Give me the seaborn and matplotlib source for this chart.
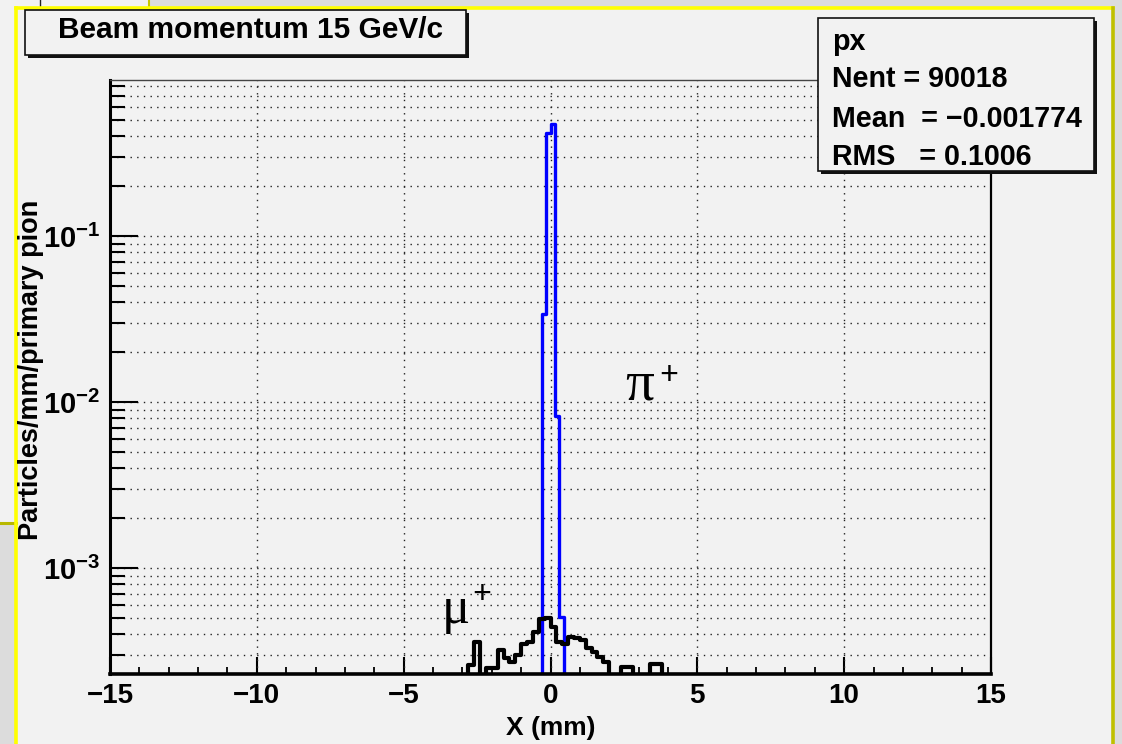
import numpy as np
import pandas as pd
import matplotlib
matplotlib.use("Agg")
import matplotlib.pyplot as plt
import seaborn as sns
from matplotlib.patches import Rectangle
from matplotlib.lines import Line2D
from matplotlib.ticker import FixedLocator, FuncFormatter, LogLocator, NullFormatter, MultipleLocator

# ---------------- data ----------------
x_range = (-15.0, 15.0)
y_range = (2.3e-4, 0.87)

pi_bin_width = 0.15
pi_bin_left = [-0.30, -0.15, 0.00, 0.15, 0.30]
pi_values = [0.034, 0.417, 0.473, 0.0082, 0.00051]

mu_bin_width = 0.2
mu_bin_left = [-2.8, -2.6, -2.2, -2.0, -1.8, -1.6, -1.4, -1.2, -1.0, -0.8,
               -0.6, -0.4, -0.2, 0.0, 0.2, 0.4, 0.6, 0.8, 1.0, 1.2,
               1.4, 1.6, 1.8, 2.4, 2.6, 3.4, 3.6]
mu_values = [2.6e-4, 3.6e-4, 2.5e-4, 2.5e-4, 3.2e-4, 2.87e-4, 2.72e-4, 3.0e-4, 3.5e-4, 3.6e-4,
             4.1e-4, 4.9e-4, 5.0e-4, 4.4e-4, 3.6e-4, 3.5e-4, 3.85e-4, 3.8e-4, 3.7e-4, 3.3e-4,
             3.1e-4, 2.9e-4, 2.7e-4, 2.55e-4, 2.55e-4, 2.65e-4, 2.65e-4]

x_major_ticks = [-15, -10, -5, 0, 5, 10, 15]
x_grid_ticks = [-10, -5, 0, 5, 10]
y_major_ticks = [1e-3, 1e-2, 1e-1]

title_text = "Beam momentum 15 GeV/c"
stats_lines = ["px", "Nent = 90018", "Mean  = \u22120.001774", "RMS   = 0.1006"]
x_label = "X (mm)"
y_label = "Particles/mm/primary pion"

# ---------------- style ----------------
plt.rcParams["font.family"] = ["Liberation Sans", "DejaVu Sans"]
plt.rcParams["font.weight"] = "bold"
plt.rcParams["mathtext.fontset"] = "custom"
plt.rcParams["mathtext.rm"] = "Liberation Sans:bold"
plt.rcParams["mathtext.bf"] = "Liberation Sans:bold"
plt.rcParams["mathtext.it"] = "Liberation Sans:bold"
plt.rcParams["mathtext.default"] = "rm"

W, H = 1122, 744
fig = plt.figure(figsize=(W / 100, H / 100), dpi=100)
fig.patch.set_facecolor("#dcdcdc")


def fx(x):
    return x / W


def fy(y):
    return 1 - y / H


def frect(x0, y0, x1, y1, **kw):
    r = Rectangle((fx(x0), fy(y1)), fx(x1) - fx(x0), fy(y0) - fy(y1),
                  transform=fig.transFigure, **kw)
    fig.add_artist(r)
    return r


def fline(xs, ys, **kw):
    fig.add_artist(Line2D([fx(v) for v in xs], [fy(v) for v in ys],
                          transform=fig.transFigure, **kw))


# window background pieces
frect(0, 0, 16, 523, facecolor="#f2f2f2", edgecolor="none", zorder=-10)
frect(0, 0, 150, 8, facecolor="#f2f2f2", edgecolor="none", zorder=-10)
frect(16, 8, 1113, 744, facecolor="#f2f2f2", edgecolor="none", zorder=-9)
fline([0, 16], [523, 523], color="#b8b800", lw=2.2, zorder=-8)
fline([40, 40], [0, 8], color="#222222", lw=1.0, zorder=-8)
fline([149, 149], [0, 8], color="#c8c800", lw=1.5, zorder=-8)
fline([16, 16], [8, 744], color="#ffff00", lw=2.6, zorder=-8)
fline([16, 1113], [8, 8], color="#ffff00", lw=2.6, zorder=-8)
fline([1113, 1113], [8, 744], color="#c0c000", lw=2.6, zorder=-8)

# axes
ax_l, ax_r, ax_t, ax_b = 110, 991, 80, 674
ax = fig.add_axes([fx(ax_l), fy(ax_b), fx(ax_r) - fx(ax_l), fy(ax_t) - fy(ax_b)])
ax.set_facecolor("none")

pi_edges = list(np.linspace(x_range[0], x_range[1], int(round((x_range[1] - x_range[0]) / pi_bin_width)) + 1))
mu_edges = list(np.linspace(x_range[0], x_range[1], int(round((x_range[1] - x_range[0]) / mu_bin_width)) + 1))

pi_df = pd.DataFrame({"x": np.array(pi_bin_left) + pi_bin_width / 2, "w": pi_values})
mu_df = pd.DataFrame({"x": np.array(mu_bin_left) + mu_bin_width / 2, "w": mu_values})

sns.histplot(data=pi_df, x="x", weights="w", bins=pi_edges,
             element="step", fill=False, color="#0000ff", linewidth=2.4, ax=ax, zorder=3)
sns.histplot(data=mu_df, x="x", weights="w", bins=mu_edges,
             element="step", fill=False, color="#000000", linewidth=3.0, ax=ax, zorder=4)

ax.set_yscale("log")
ax.set_xlim(*x_range)
ax.set_ylim(*y_range)

# ticks
ax.xaxis.set_major_locator(FixedLocator(x_major_ticks))
ax.xaxis.set_minor_locator(MultipleLocator(1))
ax.xaxis.set_major_formatter(FuncFormatter(lambda v, p: f"{int(v)}".replace("-", "\u2212")))
ax.yaxis.set_major_locator(FixedLocator(y_major_ticks))
ax.yaxis.set_minor_locator(LogLocator(base=10, subs=np.arange(2, 10), numticks=20))
ax.yaxis.set_minor_formatter(NullFormatter())
ax.yaxis.set_major_formatter(FuncFormatter(lambda v, p: r"$10^{%d}$" % int(round(np.log10(v)))))

ax.tick_params(axis="x", which="major", direction="in", length=12, width=1.5, pad=6.5,
               labelsize=20, top=False, color="black")
ax.tick_params(axis="x", which="minor", direction="in", length=5, width=1.3, top=False)
ax.tick_params(axis="y", which="major", direction="in", length=20, width=1.5, pad=7,
               labelsize=21, right=False)
ax.tick_params(axis="y", which="minor", direction="in", length=11, width=1.5, right=False)
for lab in ax.get_xticklabels() + ax.get_yticklabels():
    lab.set_fontweight("bold")

# grid (dotted)
grid_kw = dict(color="#222222", linestyle=(0, (1, 3.8)), linewidth=1.0)
for v in x_grid_ticks:
    ax.axvline(v, zorder=1, **grid_kw)
ax.yaxis.grid(True, which="both", **grid_kw)
ax.set_axisbelow(True)

# spines
ax.spines["left"].set_linewidth(2.2)
ax.spines["bottom"].set_linewidth(2.6)
ax.spines["right"].set_linewidth(1.6)
ax.spines["top"].set_linewidth(1.0)
ax.spines["top"].set_color("#444444")
for s in ax.spines.values():
    s.set_zorder(5)

# axis labels
ax.set_xlabel(x_label, fontsize=19, fontweight="bold", va="center")
ax.xaxis.set_label_coords(0.5, (ax_b - 728) / (ax_b - ax_t))
ax.set_ylabel(y_label, fontsize=19.5, fontweight="bold", va="center")
ax.yaxis.set_label_coords((31 - ax_l) / (ax_r - ax_l), (ax_b - 370) / (ax_b - ax_t))

# particle labels
ax.text(2.55, 1.03e-2, "\u03c0", fontsize=41, family=["Liberation Serif", "DejaVu Serif"],
        fontweight="normal", ha="left", va="baseline", zorder=6)
ax.text(3.72, 1.28e-2, "+", fontsize=24, family=["Liberation Serif", "DejaVu Serif"],
        fontweight="bold", ha="left", va="baseline", zorder=6)
ax.text(-3.72, 4.67e-4, "\u03bc", fontsize=38, family=["Liberation Serif", "DejaVu Serif"],
        fontweight="normal", ha="left", va="baseline", zorder=6)
ax.text(-2.65, 6.15e-4, "+", fontsize=24, family=["Liberation Serif", "DejaVu Serif"],
        fontweight="bold", ha="left", va="baseline", zorder=6)

# title pave
frect(28, 13, 469, 58, facecolor="#111111", edgecolor="none", zorder=10)
frect(25, 10, 466, 55, facecolor="#f2f2f2", edgecolor="#111111", linewidth=1.2, zorder=11)
fig.text(fx(250), fy(38), title_text, fontsize=21.5, fontweight="bold", ha="center",
         va="baseline", zorder=12)

# stats pave
frect(821, 21, 1097, 174, facecolor="#111111", edgecolor="none", zorder=10)
frect(818, 18, 1094, 171, facecolor="#f2f2f2", edgecolor="#111111", linewidth=1.2, zorder=11)
for txt, yb in zip(stats_lines, [50, 87, 127, 165]):
    fig.text(fx(832), fy(yb), txt, fontsize=20.6, fontweight="bold", ha="left",
             va="baseline", zorder=12)

fig.savefig("out.png", dpi=100, facecolor=fig.get_facecolor())
